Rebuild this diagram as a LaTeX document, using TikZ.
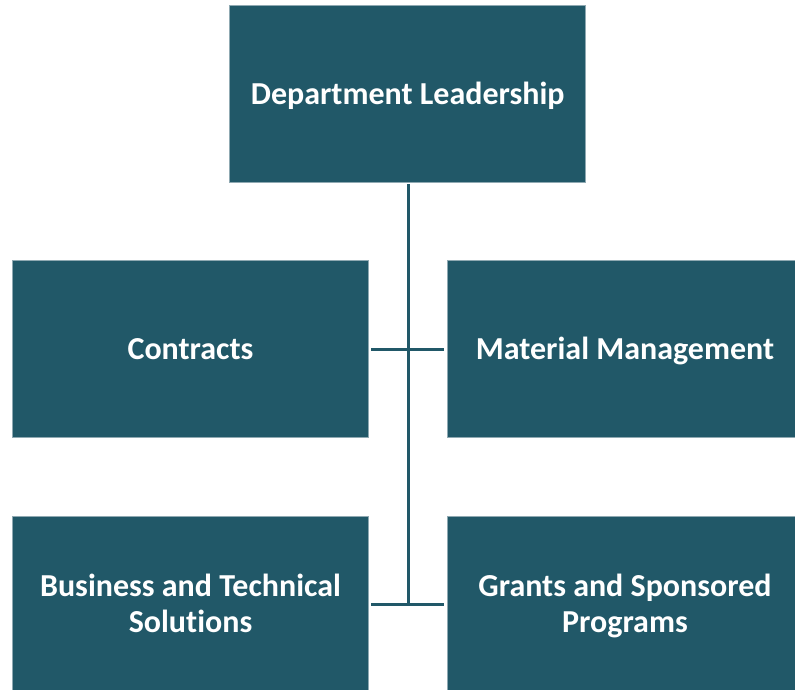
\documentclass[tikz,border=0pt]{standalone}
\usepackage{fontspec}
\setmainfont{Carlito}[RawFeature=-liga]
\definecolor{teal1}{HTML}{215868}
\definecolor{edge1}{HTML}{8FA9B2}
\newcommand{\topstrut}{\rule{0pt}{0.9em}}
\newcommand{\botstrut}{\rule[-0.256em]{0pt}{0.256em}}
\begin{document}
\begin{tikzpicture}[x=1pt,y=-1pt,
  box/.style={fill=teal1,draw=edge1,line width=0.8pt,text=white,font=\bfseries\fontsize{32}{36}\selectfont,align=center,inner sep=0pt,
    minimum width=356pt,minimum height=177pt,
    execute at begin node=\topstrut, execute at end node=\botstrut},
  conn/.style={draw=teal1,line width=3pt}]
\useasboundingbox (0,0) rectangle (795,690);
\begin{scope}
\clip (0,0) rectangle (795,690);
\node[box] (lead) at (407.75,93.75) {Department Leadership};
\node[box] (contr) at (190.5,349) {Contracts};
\node[box] (mat) at (625,349) {Material Management};
\node[box,minimum height=183pt] (bts) at (190.5,607.5) {Business and Technical\\Solutions};
\node[box,minimum height=183pt] (gsp) at (625,607.5) {Grants and Sponsored\\Programs};
\end{scope}
\coordinate (top) at (408,184);
\coordinate (j1) at (408,349);
\coordinate (j2) at (408,604);
\coordinate (l1) at (371,349);
\coordinate (r1) at (444,349);
\coordinate (l2) at (371,604);
\coordinate (r2) at (444,604);
\draw[conn] (top) -- (j2);
\draw[conn] (l1) -- (r1);
\draw[conn] (l2) -- (r2);
\end{tikzpicture}
\end{document}
